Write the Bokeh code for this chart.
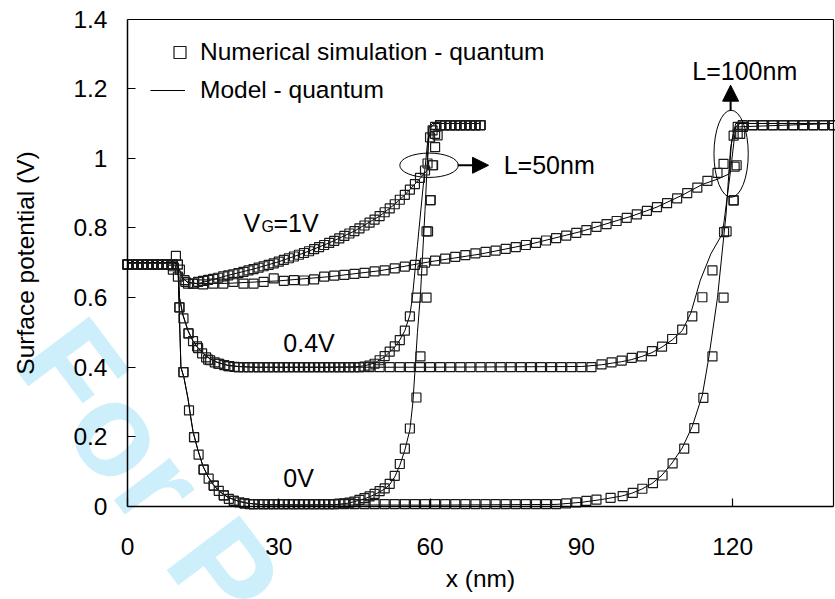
from bokeh.plotting import figure
from bokeh.models import (Range1d, FixedTicker, NumeralTickFormatter, Label, Arrow,
                          NormalHead, Legend, LegendItem, LinearAxis)
from bokeh.embed import file_html
from bokeh.resources import INLINE

FONT = "Liberation Sans"

# ---------------- data ----------------
x_ticks = [0, 30, 60, 90, 120]
y_ticks = [0, 0.2, 0.4, 0.6, 0.8, 1.0, 1.2, 1.4]

# numerical simulation, L = 50 nm
sim50_v0_x = [0, 1, 2, 3, 4, 5, 6, 7, 8, 9, 10,
              11.1, 12.2, 13.2, 14.1, 15.1, 16.1, 17.1, 18.1, 19.1, 20.1, 21.1, 22.2, 23.2, 24.2,
              25, 26, 27, 28, 29, 30, 31, 32, 33, 34, 35, 36, 37, 38, 39, 40, 41,
              42, 43, 44, 45, 46, 47, 48, 49, 50, 51, 52, 53, 54, 55, 56,
              57.3, 58.1, 59.3, 59.6, 60.1, 60.6, 61,
              62, 63, 64, 65, 66, 67, 68, 69, 70]
sim50_v0_y = [0.695, 0.695, 0.695, 0.695, 0.695, 0.695, 0.695, 0.695, 0.695, 0.695, 0.695,
              0.386, 0.276, 0.199, 0.149, 0.106, 0.080, 0.060, 0.045, 0.032, 0.022, 0.016, 0.012, 0.009, 0.007,
              0.007, 0.007, 0.007, 0.007, 0.007, 0.007, 0.007, 0.007, 0.007, 0.007, 0.007, 0.007, 0.007, 0.007, 0.007, 0.007, 0.007,
              0.008, 0.009, 0.011, 0.014, 0.019, 0.024, 0.029, 0.036, 0.044, 0.052, 0.065, 0.088, 0.122, 0.166, 0.224,
              0.313, 0.431, 0.600, 0.790, 0.880, 0.980, 1.070,
              1.095, 1.095, 1.095, 1.095, 1.095, 1.095, 1.095, 1.095, 1.095]

sim50_v04_x = [0, 1, 2, 3, 4, 5, 6, 7, 8, 9,
               10.3, 11.1, 12.1, 13.0, 13.8, 14.8, 15.6, 16.4, 17.3, 18.2, 19.2, 20.2, 21.2,
               22, 23, 24, 25, 26, 27, 28, 29, 30, 31, 32, 33, 34, 35, 36, 37, 38, 39, 40, 41, 42, 43, 44, 45, 46,
               47, 48, 49, 50, 51, 52, 53, 54, 55, 56,
               57.3, 58.5, 59.3, 60.1, 60.5, 61, 61.5,
               62, 63, 64, 65, 66, 67, 68, 69, 70]
sim50_v04_y = [0.695, 0.695, 0.695, 0.695, 0.695, 0.695, 0.695, 0.695, 0.695, 0.695,
               0.572, 0.540, 0.497, 0.475, 0.460, 0.440, 0.428, 0.420, 0.414, 0.410, 0.406, 0.403, 0.401,
               0.400, 0.400, 0.400, 0.400, 0.400, 0.400, 0.400, 0.400, 0.400, 0.400, 0.400, 0.400, 0.400,
               0.400, 0.400, 0.400, 0.400, 0.400, 0.400, 0.400, 0.400, 0.400, 0.400, 0.400, 0.400,
               0.402, 0.405, 0.410, 0.420, 0.432, 0.445, 0.460, 0.478, 0.505, 0.546,
               0.600, 0.678, 0.790, 0.880, 0.980, 1.032, 1.066,
               1.095, 1.095, 1.095, 1.095, 1.095, 1.095, 1.095, 1.095, 1.095]

sim50_v1_x = [0, 1, 2, 3, 4, 5, 6, 7, 8,
              9, 9.6, 10.4, 11.3, 12, 13, 14,
              15, 16, 17, 18, 19, 20, 21, 22, 23, 24, 25, 26, 27, 28, 29, 30, 31, 32, 33, 34, 35, 36,
              37, 38, 39, 40, 41, 42, 43, 44, 45, 46, 47, 48, 49, 50, 51, 52, 53, 54, 55, 56, 57, 58,
              59, 59.5, 60, 60.5, 61,
              62, 63, 64, 65, 66, 67, 68, 69, 70]
sim50_v1_y = [0.695, 0.695, 0.695, 0.695, 0.695, 0.695, 0.695, 0.695, 0.695,
              0.690, 0.720, 0.680, 0.650, 0.640, 0.640, 0.645,
              0.648, 0.651, 0.654, 0.657, 0.661, 0.664, 0.667, 0.670, 0.674, 0.678, 0.682, 0.686, 0.690,
              0.694, 0.698, 0.703, 0.708, 0.713, 0.718, 0.723, 0.728, 0.733,
              0.739, 0.745, 0.751, 0.757, 0.763, 0.770, 0.777, 0.784, 0.791, 0.799, 0.807, 0.815, 0.824,
              0.834, 0.845, 0.856, 0.868, 0.881, 0.895, 0.910, 0.926, 0.944,
              0.965, 0.985, 1.060, 1.080, 1.090,
              1.095, 1.095, 1.095, 1.095, 1.095, 1.095, 1.095, 1.095, 1.095]

# numerical simulation, L = 100 nm
sim100_v0_x = [0, 1, 2, 3, 4, 5, 6, 7, 8, 9, 10,
               11.1, 13.2, 15.1, 17.1, 19.1, 21.1, 23.2,
               25, 27, 29, 31, 33, 35, 37, 39, 41, 43, 45, 47, 49, 51, 53, 55, 57, 59, 61, 63, 65, 67,
               69, 71, 73, 75, 77, 79, 81, 83, 85,
               87, 89, 91, 93,
               95.8, 98.2, 100.2, 102.1, 104.2, 106.1, 108.1, 110.4, 112.4, 114.2, 116, 118.2,
               118.8, 120.2, 120.8, 121.5, 122,
               124, 126, 128, 130, 132, 134, 136, 138, 140]
sim100_v0_y = [0.695, 0.695, 0.695, 0.695, 0.695, 0.695, 0.695, 0.695, 0.695, 0.695, 0.695,
               0.386, 0.199, 0.106, 0.060, 0.032, 0.016, 0.009,
               0.007, 0.007, 0.007, 0.007, 0.007, 0.007, 0.007, 0.007, 0.007, 0.007, 0.007, 0.007,
               0.007, 0.007, 0.007, 0.007, 0.007, 0.007, 0.007, 0.007, 0.007, 0.007,
               0.007, 0.007, 0.007, 0.007, 0.007, 0.007, 0.007, 0.007, 0.007,
               0.009, 0.012, 0.016, 0.020,
               0.025, 0.030, 0.039, 0.051, 0.067, 0.089, 0.124, 0.166, 0.225, 0.312, 0.431, 0.600,
               0.790, 0.879, 0.980, 1.070, 1.090,
               1.095, 1.095, 1.095, 1.095, 1.095, 1.095, 1.095, 1.095, 1.095]

sim100_v04_x = [0, 1, 2, 3, 4, 5, 6, 7, 8, 9,
                10.3, 12.1, 14, 16, 18, 20,
                22, 24, 26, 28, 30, 32, 34, 36, 38, 40, 42, 44, 46, 48, 50, 52, 54, 56,
                58, 60, 62, 64, 66, 68, 70, 72, 74, 76, 78, 80, 82, 84, 86, 88, 90, 92,
                94, 96, 98, 100, 102, 104, 106, 108, 110, 112, 114, 116,
                118.3, 120.2, 120.4, 121, 122,
                124, 126, 128, 130, 132, 134, 136, 138, 140]
sim100_v04_y = [0.695, 0.695, 0.695, 0.695, 0.695, 0.695, 0.695, 0.695, 0.695, 0.695,
                0.572, 0.497, 0.455, 0.422, 0.410, 0.403,
                0.400, 0.400, 0.400, 0.400, 0.400, 0.400, 0.400, 0.400, 0.400, 0.400, 0.400, 0.400,
                0.400, 0.400, 0.400, 0.400, 0.400, 0.400,
                0.400, 0.400, 0.400, 0.400, 0.400, 0.400, 0.400, 0.400, 0.400, 0.400, 0.400, 0.400,
                0.400, 0.400, 0.400, 0.400, 0.400, 0.400,
                0.408, 0.414, 0.419, 0.427, 0.431, 0.446, 0.459, 0.481, 0.508, 0.546, 0.601, 0.678,
                0.788, 0.879, 0.976, 1.070, 1.090,
                1.095, 1.095, 1.095, 1.095, 1.095, 1.095, 1.095, 1.095, 1.095]

sim100_v1_x = [0, 1, 2, 3, 4, 5, 6, 7, 8,
               9, 10, 11.5,
               13, 15, 17, 19, 21, 23, 25, 27, 29, 31, 33, 35, 37, 39, 41, 43, 45, 47, 49, 51,
               53, 55, 57, 59, 61, 63, 65, 67, 69, 71, 73, 75, 77, 79, 81, 83, 85, 87, 89, 91,
               93, 95, 97, 99, 101, 103, 105, 107, 109, 111, 113, 115, 117,
               118.2, 120.2, 121, 122,
               124, 126, 128, 130, 132, 134, 136, 138, 140]
sim100_v1_y = [0.695, 0.695, 0.695, 0.695, 0.695, 0.695, 0.695, 0.695, 0.695,
               0.680, 0.660, 0.645,
               0.640, 0.638, 0.640, 0.640, 0.645, 0.640, 0.640, 0.645, 0.655, 0.648, 0.650, 0.649,
               0.652, 0.660, 0.663, 0.665, 0.668, 0.671, 0.675, 0.678,
               0.684, 0.689, 0.694, 0.700, 0.706, 0.712, 0.717, 0.722, 0.727, 0.731, 0.735, 0.740,
               0.745, 0.751, 0.757, 0.764, 0.771, 0.778, 0.786, 0.794,
               0.803, 0.811, 0.820, 0.829, 0.839, 0.849, 0.860, 0.871, 0.885, 0.900, 0.916, 0.935, 0.958,
               0.984, 1.065, 1.090, 1.095,
               1.095, 1.095, 1.095, 1.095, 1.095, 1.095, 1.095, 1.095, 1.095]

# model curves
mod50_v0_x = [0, 10.0, 10.3, 10.6, 11.2, 12.0, 12.5, 13.0, 14.0, 15.0, 16.0, 17.0, 18.0, 19.0, 20.0,
              22.0, 24.0, 27.0, 35.0, 41.0, 44.0, 47.0, 49.0, 51.0, 52.0, 53.0, 54.0, 55.0, 56.0,
              56.6, 57.1, 57.5, 58.1, 59.0, 59.8, 60.5, 70.0]
mod50_v0_y = [0.70, 0.70, 0.55, 0.40, 0.37, 0.31, 0.26, 0.215, 0.16, 0.115, 0.085, 0.063, 0.047, 0.035, 0.026,
              0.015, 0.009, 0.005, 0.004, 0.005, 0.010, 0.022, 0.034, 0.050, 0.063, 0.085, 0.118, 0.162, 0.220,
              0.300, 0.410, 0.500, 0.610, 0.850, 1.090, 1.100, 1.100]

mod100_v0_x = [0, 10.0, 10.3, 10.6, 11.2, 12.0, 12.5, 13.0, 14.0, 15.0, 16.0, 17.0, 18.0, 19.0, 20.0,
               22.0, 24.0, 27.0, 60.0, 85.0, 90.0, 94.0, 98.0, 100.0, 102.0, 104.0, 106.0, 108.0,
               110.0, 112.0, 114.0, 115.3, 117.0, 118.7, 119.6, 120.6, 140.0]
mod100_v0_y = [0.70, 0.70, 0.55, 0.40, 0.37, 0.31, 0.26, 0.215, 0.16, 0.115, 0.085, 0.063, 0.047, 0.035, 0.026,
               0.015, 0.009, 0.005, 0.004, 0.006, 0.012, 0.020, 0.030, 0.038, 0.050, 0.066, 0.090, 0.125,
               0.168, 0.230, 0.320, 0.430, 0.600, 0.840, 1.030, 1.100, 1.100]

mod50_v04_x = [0, 10.0, 10.3, 11.0, 12.0, 13.0, 14.0, 15.0, 16.0, 17.0, 18.0, 20.0, 22.0, 25.0, 40.0,
               45.0, 47.0, 49.0, 51.0, 53.0, 54.0, 55.0, 56.0, 56.5, 57.5, 58.5, 59.2, 59.8, 60.5, 70.0]
mod50_v04_y = [0.70, 0.70, 0.60, 0.55, 0.505, 0.475, 0.455, 0.44, 0.428, 0.419, 0.413, 0.405, 0.402, 0.400, 0.400,
               0.401, 0.404, 0.412, 0.430, 0.458, 0.478, 0.505, 0.550, 0.600, 0.750, 0.900, 1.000, 1.090, 1.100, 1.100]

mod100_v04_x = [0, 10.0, 10.3, 11.0, 12.0, 13.0, 14.0, 15.0, 16.0, 17.0, 18.0, 20.0, 22.0, 25.0,
                60.0, 90.0, 94.0, 98.0, 100.0, 102.0, 104.0, 106.0, 108.0, 110.0, 111.7, 113.6, 115.7,
                118.0, 119.6, 120.6, 140.0]
mod100_v04_y = [0.70, 0.70, 0.60, 0.55, 0.505, 0.475, 0.455, 0.44, 0.428, 0.419, 0.413, 0.405, 0.402, 0.400,
                0.400, 0.402, 0.407, 0.416, 0.422, 0.431, 0.442, 0.458, 0.478, 0.505, 0.555, 0.650, 0.726,
                0.784, 0.965, 1.090, 1.100]

mod50_v1_x = [0, 8.5, 9.5, 10.3, 11.0, 12.0, 14.0, 17.0, 20.0, 25.0, 30.0, 35.0, 40.0, 45.0, 50.0,
              53.0, 55.0, 57.0, 58.5, 59.4, 59.7, 60.2, 61.0, 70.0]
mod50_v1_y = [0.70, 0.70, 0.70, 0.68, 0.655, 0.643, 0.640, 0.652, 0.664, 0.682, 0.703, 0.728, 0.757, 0.791, 0.834,
              0.868, 0.895, 0.926, 0.950, 0.965, 1.050, 1.090, 1.100, 1.100]

mod100_v1_x = [0, 8.5, 9.5, 10.3, 11.0, 12.0, 14.0, 20.0, 30.0, 40.0, 50.0, 60.0, 70.0, 80.0, 90.0,
               100.0, 105.0, 110.0, 114.0, 117.0, 119.3, 119.8, 120.5, 121.5, 140.0]
mod100_v1_y = [0.70, 0.70, 0.70, 0.68, 0.655, 0.643, 0.640, 0.641, 0.648, 0.660, 0.677, 0.703, 0.725, 0.754, 0.790,
               0.834, 0.860, 0.894, 0.925, 0.940, 0.955, 1.050, 1.090, 1.100, 1.100]

sim_series = [(sim50_v0_x, sim50_v0_y), (sim50_v04_x, sim50_v04_y), (sim50_v1_x, sim50_v1_y),
              (sim100_v0_x, sim100_v0_y), (sim100_v04_x, sim100_v04_y), (sim100_v1_x, sim100_v1_y)]
model_series = [(mod50_v0_x, mod50_v0_y), (mod50_v04_x, mod50_v04_y), (mod50_v1_x, mod50_v1_y),
                (mod100_v0_x, mod100_v0_y), (mod100_v04_x, mod100_v04_y), (mod100_v1_x, mod100_v1_y)]

X_MIN, X_MAX = 0, 140
Y_MIN, Y_MAX = 0, 1.4

# ---------------- figure ----------------
# The frame fills the whole canvas so that the stamp can overlap the axes area;
# the axes are drawn at fixed data locations.
p = figure(width=835, height=599, output_backend="svg", toolbar_location=None,
           x_range=Range1d(-25.18, 140.40), y_range=Range1d(-0.2671, 1.4532),
           x_axis_location=None, y_axis_location=None,
           min_border=0, min_border_left=0, min_border_right=0,
           min_border_top=0, min_border_bottom=0)
p.background_fill_color = "white"
p.border_fill_color = "white"
p.outline_line_color = None
p.grid.visible = False


def style_axis(ax):
    ax.axis_line_color = "black"
    ax.axis_line_width = 1.5
    ax.major_tick_in = 8
    ax.major_tick_out = 0
    ax.major_tick_line_color = "black"
    ax.major_tick_line_width = 1.2
    ax.minor_tick_line_color = None
    ax.major_label_text_font = FONT
    ax.major_label_text_font_size = "24.5px"
    ax.major_label_text_color = "black"
    ax.axis_label_text_font = FONT
    ax.axis_label_text_font_size = "24.5px"
    ax.axis_label_text_font_style = "normal"
    ax.axis_label_text_color = "black"


xaxis = LinearAxis(fixed_location=Y_MIN, bounds=(X_MIN, X_MAX), ticker=FixedTicker(ticks=x_ticks),
                   axis_label="x (nm)")
style_axis(xaxis)
xaxis.major_label_standoff = 32
xaxis.axis_label_standoff = 6
p.add_layout(xaxis, "below")

yaxis = LinearAxis(fixed_location=X_MIN, bounds=(Y_MIN, Y_MAX), ticker=FixedTicker(ticks=y_ticks),
                   formatter=NumeralTickFormatter(format="0.[0]"), axis_label="Surface potential (V)")
style_axis(yaxis)
yaxis.major_label_standoff = 20
yaxis.axis_label_standoff = 31
p.add_layout(yaxis, "left")

for loc, bnd, side in ((Y_MAX, (X_MIN, X_MAX), "above"), (X_MAX, (Y_MIN, Y_MAX), "right")):
    box_ax = LinearAxis(fixed_location=loc, bounds=bnd, ticker=FixedTicker(ticks=[]))
    box_ax.axis_line_color = "black"
    box_ax.axis_line_width = 1.2
    box_ax.major_tick_line_color = None
    box_ax.minor_tick_line_color = None
    box_ax.major_label_text_font_size = "0px"
    p.add_layout(box_ax, side)

# watermark stamp, underneath everything
p.add_layout(Label(x=-15.8, y=0.488, text="For P", angle=-0.925,
                   text_font=FONT, text_font_style="bold", text_font_size="132px",
                   text_color="#cdeefb", text_baseline="alphabetic", text_align="left",
                   level="underlay"))

model_renderers = []
for xs, ys in model_series:
    model_renderers.append(p.line(xs, ys, line_color="black", line_width=1))

sim_renderers = []
for xs, ys in sim_series:
    sim_renderers.append(p.scatter(xs, ys, marker="square", size=9, fill_color=None,
                                   line_color="#1a1a1a", line_width=1.2))

# ellipses around the drain-side rise
p.ellipse(x=[59.8, 119.7], y=[0.98, 1.013], width=[11.6, 6.8], height=[0.07, 0.25],
          fill_color=None, line_color="black", line_width=1)

head = dict(size=16, fill_color="black", line_color="black")
p.add_layout(Arrow(x_start=65.5, y_start=0.98, x_end=71.6, y_end=0.98,
                   end=NormalHead(**head), line_width=2, line_color="black"))
p.add_layout(Arrow(x_start=119.6, y_start=1.137, x_end=119.6, y_end=1.21,
                   end=NormalHead(**head), line_width=2, line_color="black"))


def lab(x, y, t, size="25px"):
    p.add_layout(Label(x=x, y=y, text=t, text_font=FONT, text_font_size=size,
                       text_color="black", text_baseline="alphabetic", text_align="left"))


lab(23.0, 0.814, "V")
lab(26.6, 0.804, "G", "16px")
lab(28.95, 0.814, "=1V")
lab(30.9, 0.469, "0.4V")
lab(30.9, 0.0816, "0V")
lab(74.6, 0.980, "L=50nm")
lab(112.0, 1.250, "L=100nm")

legend_style = dict(glyph_height=30, label_height=30, padding=0, spacing=0, margin=0,
                    border_line_color=None, background_fill_alpha=0,
                    label_text_font=FONT, label_text_font_size="24.5px", label_text_color="black")
p.add_layout(Legend(items=[LegendItem(label="Numerical simulation - quantum",
                                      renderers=[sim_renderers[0]])],
                    location=(162, 532), glyph_width=35, label_standoff=3, **legend_style))
p.add_layout(Legend(items=[LegendItem(label="Model - quantum", renderers=[model_renderers[0]])],
                    location=(150, 494), glyph_width=35, label_standoff=15, **legend_style))

open("out.html", "w").write(file_html(p, INLINE))
